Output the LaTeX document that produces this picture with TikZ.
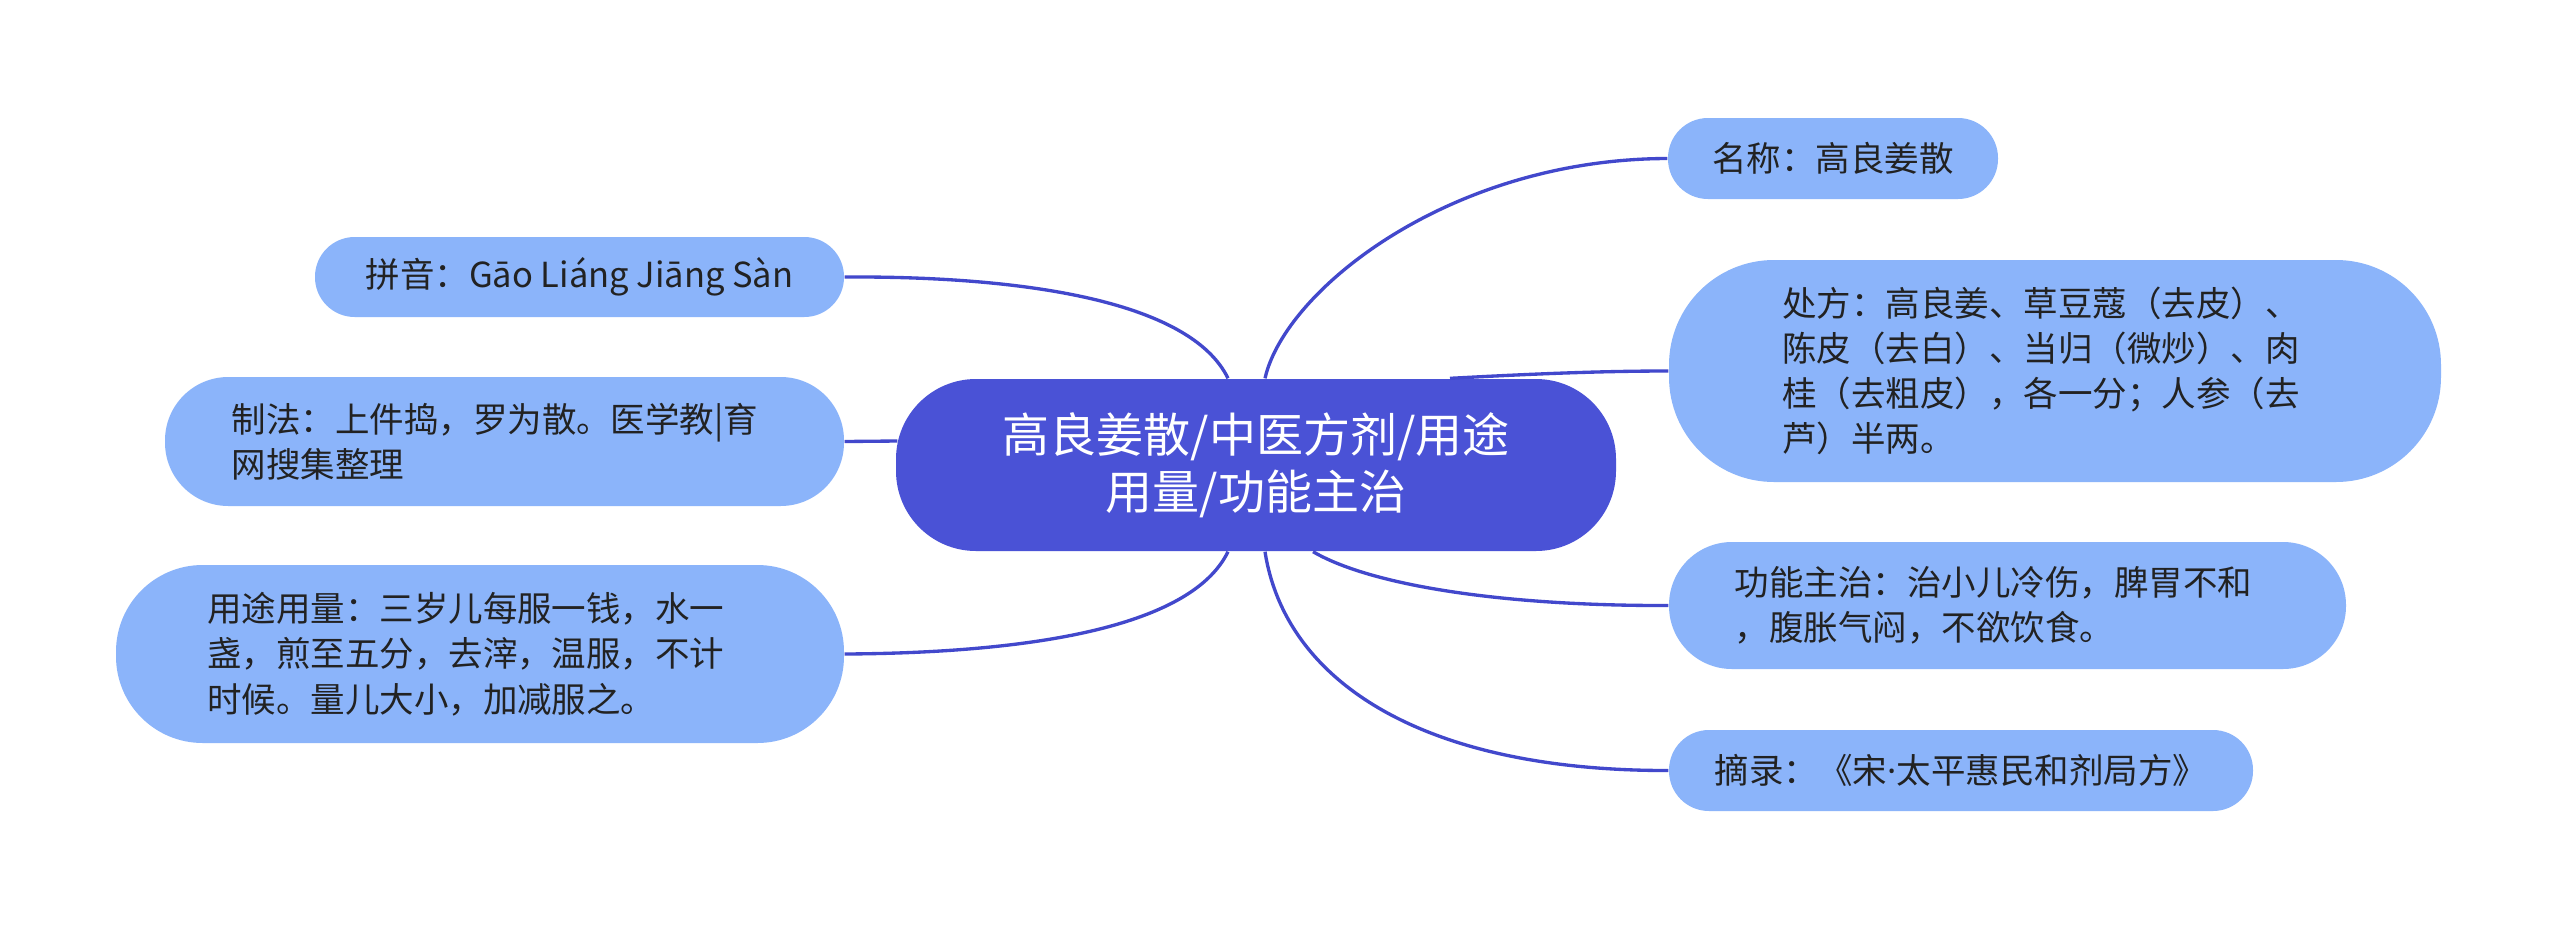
\documentclass[tikz,border=0pt]{standalone}
\usepackage{fontspec}
\newfontfamily\cjk{Noto Sans CJK SC}
\newfontfamily\latinf{Noto Sans}
\usetikzlibrary{calc}
\definecolor{centralc}{RGB}{74,82,214}
\definecolor{leafc}{RGB}{139,180,250}
\definecolor{linkc}{RGB}{66,72,204}
\definecolor{inkc}{RGB}{34,34,34}
\begin{document}
\begin{tikzpicture}[x=0.3pt,y=-0.3pt,
  leafbox/.style={fill=leafc, text=inkc, font=\cjk\fontsize{10.35pt}{13.56pt}\selectfont, inner sep=0pt, align=left},
  rootbox/.style={fill=centralc, text=white, font=\cjk\fontsize{14.1pt}{17.1pt}\selectfont, inner sep=0pt, align=center},
  linkline/.style={draw=linkc, line width=1pt}]
\path[use as bounding box, fill=white] (0,0) rectangle (2560,931);

\node[rootbox, minimum width=216pt, minimum height=51.6pt, rounded corners=24pt] (root) at (1256,465) {高良姜散/中医方剂/用途\\用量/功能主治};

\node[leafbox, minimum width=99pt, minimum height=24.3pt, rounded corners=12pt] (mingcheng) at (1833,158.5) {名称：高良姜散};
\node[leafbox, text width=163.8pt, minimum width=231.6pt, minimum height=66.6pt, rounded corners=31.5pt] (chufang) at (2055,371) {处方：高良姜、草豆蔻（去皮）、\\陈皮（去白）、当归（微炒）、肉\\桂（去粗皮），各一分；人参（去\\芦）半两。};
\node[leafbox, text width=163.8pt, minimum width=203.1pt, minimum height=38.1pt, rounded corners=18.9pt] (gongneng) at (2007.5,605.5) {功能主治：治小儿冷伤，脾胃不和\\，腹胀气闷，不欲饮食。};
\node[leafbox, minimum width=175.2pt, minimum height=24.3pt, rounded corners=12pt] (zhailu) at (1961,770.5) {摘录：《宋{\latinf ·}太平惠民和剂局方》};

\node[leafbox, minimum width=158.7pt, minimum height=24pt, rounded corners=11.9pt] (pinyin) at (579.5,277) {拼音：Gāo Liáng Jiāng Sàn};
\node[leafbox, text width=163.8pt, minimum width=203.7pt, minimum height=38.7pt, rounded corners=19pt] (zhifa) at (504.5,441.5) {制法：上件捣，罗为散。医学教|育\\网搜集整理};
\node[leafbox, text width=163.8pt, minimum width=218.4pt, minimum height=53.4pt, rounded corners=26pt] (yongtu) at (480,654) {用途用量：三岁儿每服一钱，水一\\盏，煎至五分，去滓，温服，不计\\时候。量儿大小，加减服之。};

\draw[linkline] ($(root.north)+(-28,0)$) .. controls (1190,300) and (1020,276) .. (pinyin.east);
\draw[linkline] (zhifa.east) -- ($(root.west)+(2,-24)$);
\draw[linkline] ($(root.south)+(-28,0)$) .. controls (1190,630) and (1020,653) .. (yongtu.east);
\draw[linkline] ($(root.north)+(9,0)$) .. controls (1285,290) and (1450,159) .. (mingcheng.west);
\draw[linkline] ($(root.north)+(194,0)$) .. controls (1530,374) and (1600,371) .. (chufang.west);
\draw[linkline] ($(root.south)+(57,0)$) .. controls (1370,585) and (1500,606) .. (gongneng.west);
\draw[linkline] ($(root.south)+(9,0)$) .. controls (1285,680) and (1420,771) .. (zhailu.west);
\end{tikzpicture}
\end{document}
